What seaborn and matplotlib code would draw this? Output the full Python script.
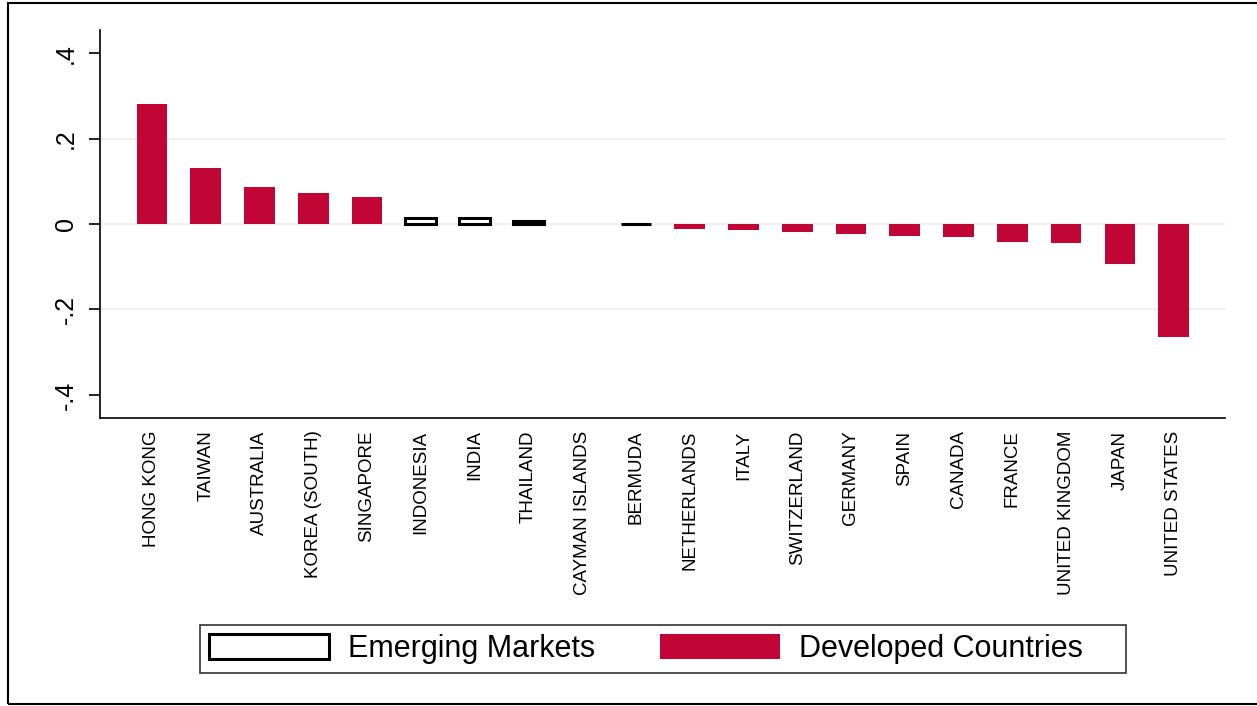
import numpy as np
import pandas as pd
import matplotlib
matplotlib.use("Agg")
import matplotlib.pyplot as plt
from matplotlib.patches import Patch, Rectangle
import seaborn as sns

sns.set_theme(style="white")
plt.rcParams["font.family"] = ["Liberation Sans", "DejaVu Sans"]
plt.rcParams["text.color"] = "black"
plt.rcParams["xtick.color"] = "black"
plt.rcParams["ytick.color"] = "black"

# data
countries = ["HONG KONG", "TAIWAN", "AUSTRALIA", "KOREA (SOUTH)", "SINGAPORE",
             "INDONESIA", "INDIA", "THAILAND", "CAYMAN ISLANDS", "BERMUDA",
             "NETHERLANDS", "ITALY", "SWITZERLAND", "GERMANY", "SPAIN",
             "CANADA", "FRANCE", "UNITED KINGDOM", "JAPAN", "UNITED STATES"]
values = [0.280, 0.131, 0.087, 0.072, 0.063,
          0.015, 0.015, 0.006, np.nan, 0.001,
          -0.011, -0.014, -0.019, -0.023, -0.028,
          -0.031, -0.043, -0.045, -0.094, -0.264]
groups = ["Developed Countries"] * 5 + ["Emerging Markets"] * 5 + ["Developed Countries"] * 10
yticks = [-0.4, -0.2, 0, 0.2, 0.4]
ytick_labels = ["-.4", "-.2", "0", ".2", ".4"]

RED = "#C10534"
GRID = "#E8F0F2"

df = pd.DataFrame({"country": countries, "value": values, "group": groups})

fig = plt.figure(figsize=(12.57, 7.06), dpi=100)
ax = fig.add_axes([100 / 1257, 1 - 418 / 706, 1125 / 1257, 388 / 706])

sns.barplot(data=df, x="country", y="value", hue="group", order=countries,
            hue_order=["Emerging Markets", "Developed Countries"],
            palette={"Emerging Markets": "white", "Developed Countries": RED},
            saturation=1, dodge=False, width=0.57, legend=False, ax=ax, zorder=3)

# emerging markets: hollow bars with black outline
for p in ax.patches:
    if p.get_facecolor()[:3] == (1.0, 1.0, 1.0):
        p.set_edgecolor("black")
        p.set_linewidth(2.2)
    else:
        p.set_linewidth(0)

ax.set_ylim(-0.454, 0.454)
ax.set_xlim(-0.965, len(countries) - 1 + 0.955)
ax.set_yticks(yticks)
ax.set_yticklabels(ytick_labels, rotation=90, va="center", fontsize=18)
ax.tick_params(axis="y", length=8, width=1.2, pad=8, color="black", left=True)
ax.tick_params(axis="x", length=0, pad=9)
plt.setp(ax.get_xticklabels(), rotation=90, fontsize=13.5, va="top")
ax.set_xlabel("")
ax.set_ylabel("")

# Stata-like grid: inner lines only
ax.yaxis.grid(True, color=GRID, lw=1.3, zorder=0)
for tick in ax.yaxis.get_major_ticks():
    if abs(tick.get_loc()) > 0.3:
        tick.gridline.set_visible(False)
ax.set_axisbelow(True)

for side in ["top", "right"]:
    ax.spines[side].set_visible(False)
for side in ["left", "bottom"]:
    ax.spines[side].set_color("black")
    ax.spines[side].set_linewidth(1.2)

handles = [Patch(facecolor="white", edgecolor="black", linewidth=2.2, label="Emerging Markets"),
           Patch(facecolor=RED, edgecolor=RED, linewidth=0, label="Developed Countries    ")]
leg = fig.legend(handles=handles, loc="center", bbox_to_anchor=(663 / 1257, 1 - 649 / 706),
                 ncol=2, fontsize=22, frameon=True, fancybox=False,
                 handlelength=3.95, handleheight=0.88, handletextpad=0.62,
                 columnspacing=2.1, borderpad=0.3, borderaxespad=0, edgecolor="black")
leg.get_frame().set_linewidth(1.2)

# outer frame around the graph
fig.patches.append(Rectangle((8 / 1257, 2 / 706), 1.2, 701 / 706, transform=fig.transFigure,
                             fill=False, edgecolor="black", lw=1.5, clip_on=False))

fig.savefig("out.png", dpi=100)
